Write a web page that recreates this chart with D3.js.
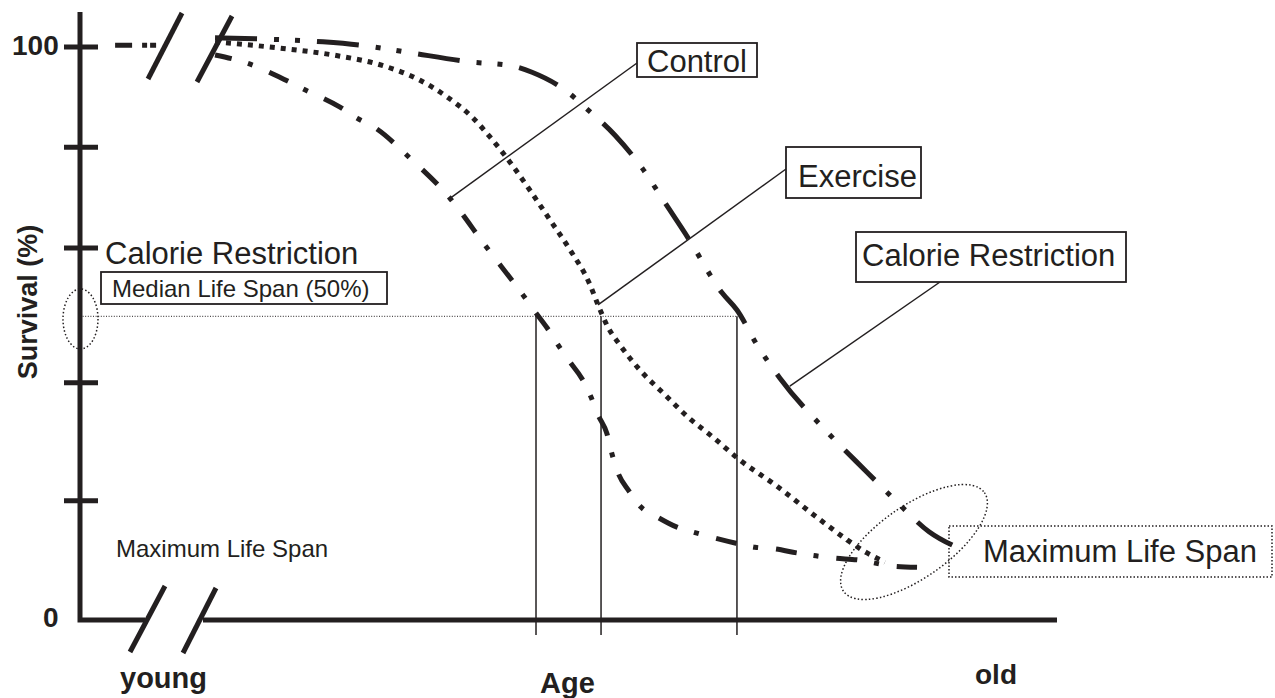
<!DOCTYPE html>
<html>
<head>
<meta charset="utf-8">
<script src="https://cdn.jsdelivr.net/npm/d3@7"></script>
<style>
  html, body { margin: 0; padding: 0; background: #fff; }
  text { font-family: "Liberation Sans", Arial, Helvetica, sans-serif; fill: #231f20; }
</style>
</head>
<body>
<script>
// ---------------- data (age units 0-100, survival %) ----------------
const seriesNames = ["Control", "Exercise", "Calorie Restriction"];

const controlAge = [13.85,17.13,21.13,22.87,26.67,28.41,30.26,33.85,37.95,41.54,45.44,46.67,47.9,49.03,50.26,51.49,52.41,53.13,54.05,54.56,55.18,56.31,57.54,59.18,61.23,63.18,65.13,67.28,69.23,71.28,73.54,75.49,77.44,79.69,83.38,85.85];
const controlSurv = [98.6,97.2,94.2,92.7,89.5,87.6,85.9,80.6,73.6,65.4,56.7,53.8,51.0,48.0,45.0,42.1,38.9,35.8,32.5,29.0,25.7,22.5,19.7,18.0,16.2,15.2,14.3,13.4,12.7,12.4,11.7,11.2,10.8,10.5,9.4,9.2];

const exerciseAge = [13.85,20.51,26.67,30.77,34.87,37.64,40.31,42.05,44.1,46.15,48.21,50.26,52.31,53.13,54.15,55.38,57.44,60.0,62.36,64.92,67.69,71.28,75.9,78.67,80.72,82.56];
const exerciseSurv = [100.9,99.8,98.4,96.9,94.2,91.3,87.6,84.3,79.9,75.0,69.8,64.6,58.5,55.0,51.1,48.0,43.6,39.3,35.4,31.9,27.9,23.6,17.5,14.0,11.7,10.1];

const crAge = [13.85,18.56,24.92,29.33,33.54,40.0,44.31,46.36,50.05,51.79,54.87,57.64,60.0,62.36,65.85,67.38,69.44,71.79,76.92,80.72,83.9,87.08,90.05];
const crSurv = [101.6,101.4,100.9,100.2,99.1,97.4,96.7,95.6,92.1,89.5,84.6,78.9,72.8,66.7,57.1,54.1,48.0,42.2,32.3,25.8,20.4,15.4,12.6];

// overlapping 100% lines before the axis break
const preBreakAge = [3.6, 8.4];
const preBreakSurv = [100.3, 100.3];

// y axis ticks
const yTickValues = [100, 82.5, 64.9, 41.4, 20.8];
const yTickLabels = ["100", "", "", "", ""];
const yZeroLabel = "0";

// median life span (survival %) and the ages where each curve crosses it
const medianSurvival = 53;
const medianAges = [46.77, 53.44, 67.38];

// leader-line targets on the curves [age, survival]
const leaderTargets = [[37.95, 73.6], [53.13, 55.0], [72.8, 40.8]];

// texts
const yAxisTitle = "Survival (%)";
const xLabels = ["young", "Age", "old"];
const leftLabel1 = "Calorie Restriction";
const leftLabel2 = "Median Life Span (50%)";
const leftLabel3 = "Maximum Life Span";
const maxLabel = "Maximum Life Span";

// ---------------- drawing ----------------
const W = 1275, H = 698;
const ink = "#231f20";
const svg = d3.select("body").append("svg").attr("width", W).attr("height", H);

const x = d3.scaleLinear().domain([0, 100]).range([80, 1055]);
const y = d3.scaleLinear().domain([0, 100]).range([620, 47]);

// axes
const axisG = svg.append("g").attr("fill", "none").attr("stroke", ink).attr("stroke-width", 5);
axisG.append("path").attr("d", `M${x(0)},12 V${y(0)} H145`).attr("stroke-linejoin", "miter");
axisG.append("line").attr("x1", 203).attr("x2", 1057).attr("y1", y(0)).attr("y2", y(0));
// break slashes
[[130,652,165,586],[183,653,216,588],[148,79,182,13],[197,82,232,16]].forEach(s => {
  axisG.append("line").attr("x1", s[0]).attr("y1", s[1]).attr("x2", s[2]).attr("y2", s[3]);
});
// y ticks (crossing the axis)
yTickValues.forEach(v => {
  axisG.append("line").attr("x1", x(0) - 16).attr("x2", x(0) + 18)
    .attr("y1", y(v)).attr("y2", y(v));
});
yTickValues.forEach((v, i) => {
  if (yTickLabels[i]) svg.append("text").attr("x", 12).attr("y", y(v) + 8)
    .attr("font-size", 28).attr("font-weight", "bold").text(yTickLabels[i]);
});
svg.append("text").attr("x", 43).attr("y", 627).attr("font-size", 28).attr("font-weight", "bold").text(yZeroLabel);

// median reference lines
svg.append("line").attr("x1", x(0)).attr("x2", x(medianAges[2])).attr("y1", y(medianSurvival)).attr("y2", y(medianSurvival))
  .attr("stroke", ink).attr("stroke-width", 1).attr("stroke-dasharray", "1,1.6");
medianAges.forEach(a => {
  svg.append("line").attr("x1", x(a)).attr("x2", x(a)).attr("y1", y(medianSurvival)).attr("y2", y(0) + 15)
    .attr("stroke", ink).attr("stroke-width", 1.5);
});

// curves
const line = d3.line().x(d => x(d[0])).y(d => y(d[1])).curve(d3.curveMonotoneX);
const zip = (a, b) => a.map((v, i) => [v, b[i]]);
const curves = [
  { name: seriesNames[0], pts: zip(controlAge, controlSurv), dash: "21,17,5,18", off: 4 },
  { name: seriesNames[1], pts: zip(exerciseAge, exerciseSurv), dash: "5,6", off: 0 },
  { name: seriesNames[2], pts: zip(crAge, crSurv), dash: "42,17,5,16,5,17", off: 0 }
];
curves.forEach(c => {
  svg.append("path").attr("d", line(c.pts)).attr("fill", "none").attr("stroke", ink)
    .attr("stroke-width", 5).attr("stroke-dasharray", c.dash).attr("stroke-dashoffset", c.off);
});
svg.append("path").attr("d", line(zip(preBreakAge, preBreakSurv))).attr("fill", "none").attr("stroke", ink)
  .attr("stroke-width", 5).attr("stroke-dasharray", "17,10,5,3,6,20");

// ellipses
svg.append("ellipse").attr("cx", 80.5).attr("cy", 319).attr("rx", 17.5).attr("ry", 30)
  .attr("fill", "none").attr("stroke", ink).attr("stroke-width", 1.5).attr("stroke-dasharray", "1.5,2.2");
svg.append("ellipse").attr("cx", 0).attr("cy", 0).attr("rx", 86).attr("ry", 36)
  .attr("transform", "translate(914,542) rotate(-35)")
  .attr("fill", "none").attr("stroke", ink).attr("stroke-width", 1.5).attr("stroke-dasharray", "1.5,2.2");

// labelled boxes with leader lines
const boxes = [
  { text: seriesNames[0], x0: 637, y0: 43, x1: 757, y1: 77, tx: 647, ty: 72, lx: 637, ly: 63, size: 31 },
  { text: seriesNames[1], x0: 786, y0: 147, x1: 921, y1: 198, tx: 798, ty: 187, lx: 786, ly: 169, size: 31 },
  { text: seriesNames[2], x0: 856, y0: 232, x1: 1126, y1: 282, tx: 862, ty: 266, lx: 940, ly: 282, size: 31 }
];
boxes.forEach((b, i) => {
  svg.append("line").attr("x1", b.lx).attr("y1", b.ly)
    .attr("x2", x(leaderTargets[i][0])).attr("y2", y(leaderTargets[i][1]))
    .attr("stroke", ink).attr("stroke-width", 1.5);
  svg.append("rect").attr("x", b.x0).attr("y", b.y0).attr("width", b.x1 - b.x0).attr("height", b.y1 - b.y0)
    .attr("fill", "#fff").attr("stroke", ink).attr("stroke-width", 1.8);
  svg.append("text").attr("x", b.tx).attr("y", b.ty).attr("font-size", b.size).text(b.text);
});

// maximum life span (dotted box)
svg.append("rect").attr("x", 949).attr("y", 526).attr("width", 323).attr("height", 51)
  .attr("fill", "none").attr("stroke", ink).attr("stroke-width", 1.5).attr("stroke-dasharray", "1.5,2");
svg.append("text").attr("x", 983).attr("y", 562).attr("font-size", 31).text(maxLabel);

// left-side labels
svg.append("text").attr("x", 105).attr("y", 264).attr("font-size", 31).text(leftLabel1);
svg.append("rect").attr("x", 101).attr("y", 272).attr("width", 286).attr("height", 32)
  .attr("fill", "#fff").attr("stroke", ink).attr("stroke-width", 1.8);
svg.append("text").attr("x", 112).attr("y", 297).attr("font-size", 24).text(leftLabel2);
svg.append("text").attr("x", 116).attr("y", 557).attr("font-size", 24).text(leftLabel3);

// axis titles
svg.append("text").attr("transform", "translate(37,302) rotate(-90)").attr("text-anchor", "middle")
  .attr("font-size", 27).attr("font-weight", "bold").text(yAxisTitle);
svg.append("text").attr("x", 120).attr("y", 688).attr("font-size", 29).attr("font-weight", "bold").text(xLabels[0]);
svg.append("text").attr("x", 540).attr("y", 693).attr("font-size", 29).attr("font-weight", "bold").text(xLabels[1]);
svg.append("text").attr("x", 975).attr("y", 684).attr("font-size", 28).attr("font-weight", "bold").text(xLabels[2]);
</script>
</body>
</html>
